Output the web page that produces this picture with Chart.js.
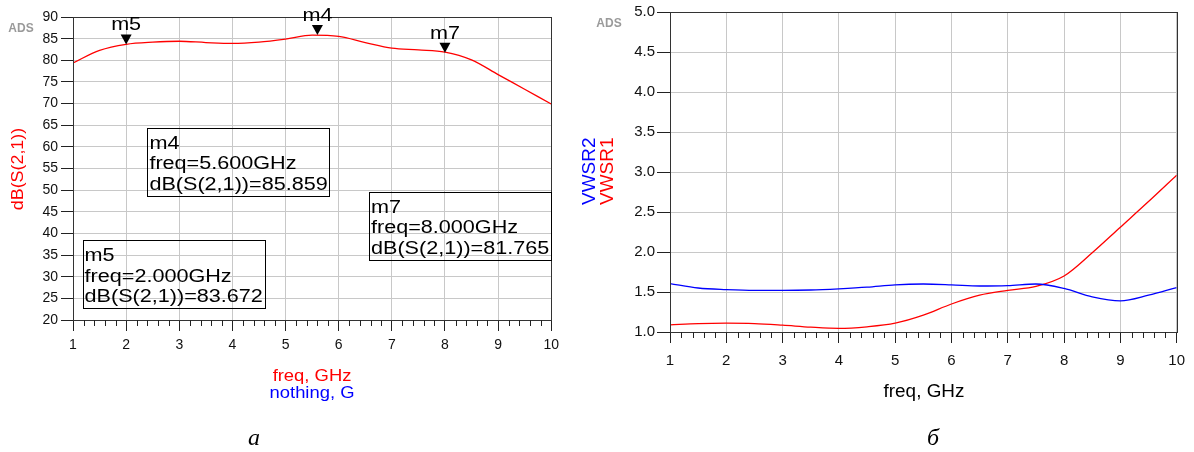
<!DOCTYPE html>
<html>
<head>
<meta charset="utf-8">
<script src="https://cdn.jsdelivr.net/npm/chart.js@4.4.1/dist/chart.umd.min.js"></script>
<style>
  body { margin: 0; background: #fff; width: 1194px; height: 452px; overflow: hidden; position: relative; }
  canvas { position: absolute; top: 0; }
  #left { left: 0; }
  #right { left: 565px; }
</style>
</head>
<body>
<canvas id="left" width="565" height="452"></canvas>
<canvas id="right" width="629" height="452"></canvas>
<script>
'use strict';

// values
var freqS21 = [1, 1.5, 2, 2.5, 3, 3.5, 4, 4.5, 5, 5.5, 6, 6.5, 7, 7.5, 8, 8.5, 9, 9.5, 10];
var dbS21   = [79.4, 82.3, 83.7, 84.2, 84.4, 84.1, 83.9, 84.2, 84.9, 85.8, 85.5, 84.1, 82.8, 82.4, 81.9, 80.1, 76.7, 73.3, 69.9];

var markerNames = ['m5', 'm4', 'm7'];
var markerFreq  = [2.0, 5.6, 8.0];
var markerDb    = [83.672, 85.859, 81.765];

var freqVswr = [1, 1.5, 2, 2.5, 3, 3.5, 4, 4.5, 5, 5.5, 6, 6.5, 7, 7.5, 8, 8.5, 9, 9.5, 10];
var vswr1    = [1.09, 1.105, 1.11, 1.105, 1.085, 1.06, 1.045, 1.065, 1.11, 1.21, 1.35, 1.46, 1.52, 1.57, 1.70, 1.99, 2.31, 2.63, 2.96];
var vswr2    = [1.605, 1.55, 1.53, 1.52, 1.52, 1.525, 1.54, 1.56, 1.59, 1.60, 1.59, 1.575, 1.58, 1.60, 1.545, 1.44, 1.39, 1.46, 1.555];

var freqTicks = [1, 2, 3, 4, 5, 6, 7, 8, 9, 10];
var dbTicks   = [20, 25, 30, 35, 40, 45, 50, 55, 60, 65, 70, 75, 80, 85, 90];
var vswrTicks = [1.0, 1.5, 2.0, 2.5, 3.0, 3.5, 4.0, 4.5, 5.0];

// where the marker readout boxes sit (top-left corner, in freq / dB units)
var boxPos = [[1.18, 38.5], [2.40, 64.4], [6.57, 49.6]];

var FAMILY = '"Liberation Sans", Arial, sans-serif';

function pts(xs, ys) {
    return xs.map(function (x, i) { return { x: x, y: ys[i] }; });
}

function fixTicks(list) {
    return function (scale) {
        scale.ticks = list.map(function (v) { return { value: v }; });
    };
}

// text with an optional horizontal stretch and rotation
function txt(ctx, s, x, y, font, color, align, sx, rot) {
    ctx.save();
    ctx.translate(x, y);
    if (rot) ctx.rotate(rot);
    ctx.scale(sx || 1, 1);
    ctx.font = font;
    ctx.fillStyle = color;
    ctx.textAlign = align || 'center';
    ctx.textBaseline = 'alphabetic';
    ctx.fillText(s, 0, 0);
    ctx.restore();
}

// closes the plot frame and adds the minor ticks on the freq axis
var framePlugin = {
    id: 'frame',
    afterDraw: function (chart) {
        var ctx = chart.ctx, a = chart.chartArea, xs = chart.scales.x;
        ctx.save();
        ctx.strokeStyle = '#333';
        ctx.lineWidth = 1;
        ctx.strokeRect(Math.round(a.left) + 0.5, Math.round(a.top) + 0.5,
                       Math.round(a.right) - Math.round(a.left), Math.round(a.bottom) - Math.round(a.top));
        ctx.strokeStyle = '#222';
        ctx.beginPath();
        for (var k = 1; k < 45; k++) {
            if (k % 5 === 0) continue;
            var px = Math.round(xs.getPixelForValue(1 + k * 0.2)) + 0.5;
            ctx.moveTo(px, a.bottom);
            ctx.lineTo(px, a.bottom + 6);
        }
        ctx.stroke();
        ctx.restore();
    }
};

var leftDecor = {
    id: 'leftDecor',
    afterDraw: function (chart) {
        var ctx = chart.ctx, xs = chart.scales.x, ys = chart.scales.y;
        var boxFont = '18px ' + FAMILY;

        // markers
        for (var i = 0; i < markerNames.length; i++) {
            var px = xs.getPixelForValue(markerFreq[i]);
            var py = ys.getPixelForValue(markerDb[i]);
            ctx.save();
            ctx.fillStyle = '#000';
            ctx.beginPath();
            ctx.moveTo(px - 5.5, py - 10);
            ctx.lineTo(px + 5.5, py - 10);
            ctx.lineTo(px, py);
            ctx.closePath();
            ctx.fill();
            ctx.restore();
            txt(ctx, markerNames[i], px, py - 14, boxFont, '#000', 'center', 1.2);
        }

        // readout boxes
        for (var j = 0; j < markerNames.length; j++) {
            var lines = [markerNames[j],
                         'freq=' + markerFreq[j].toFixed(3) + 'GHz',
                         'dB(S(2,1))=' + markerDb[j].toFixed(3)];
            var bx = xs.getPixelForValue(boxPos[j][0]);
            var by = ys.getPixelForValue(boxPos[j][1]);
            ctx.font = boxFont;
            var w = 0;
            lines.forEach(function (l) { w = Math.max(w, ctx.measureText(l).width * 1.2); });
            ctx.save();
            ctx.strokeStyle = '#000';
            ctx.lineWidth = 1;
            ctx.strokeRect(Math.round(bx) + 0.5, Math.round(by) + 0.5, Math.round(w + 4), 68);
            ctx.restore();
            for (var n = 0; n < lines.length; n++) {
                txt(ctx, lines[n], bx + 2, by + 21 + n * 20.6, boxFont, '#000', 'left', 1.2);
            }
        }

        txt(ctx, 'ADS', 21, 32, 'bold 12px ' + FAMILY, '#9a9a9a', 'center');
        txt(ctx, 'dB(S(2,1))', 23, 169, '17px ' + FAMILY, '#ff0000', 'center', 1.05, -Math.PI / 2);
        txt(ctx, 'freq, GHz', 312, 381, '16px ' + FAMILY, '#ff0000', 'center', 1.15);
        txt(ctx, 'nothing, G', 312, 398, '16px ' + FAMILY, '#0000ff', 'center', 1.15);
        txt(ctx, 'а', 254, 445, 'italic 24px "Liberation Serif", "Times New Roman", serif', '#000', 'center');
    }
};

var rightDecor = {
    id: 'rightDecor',
    afterDraw: function (chart) {
        var ctx = chart.ctx;
        txt(ctx, 'ADS', 44, 27, 'bold 12px ' + FAMILY, '#9a9a9a', 'center');
        txt(ctx, 'VWSR2', 30, 205, '19px ' + FAMILY, '#0000ff', 'left', 1, -Math.PI / 2);
        txt(ctx, 'VWSR1', 48, 205, '19px ' + FAMILY, '#ff0000', 'left', 1, -Math.PI / 2);
        txt(ctx, 'freq, GHz', 359, 397, '18px ' + FAMILY, '#000', 'center', 1.05);
        txt(ctx, 'б', 368, 445, 'italic 24px "Liberation Serif", "Times New Roman", serif', '#000', 'center');
    }
};

function freqAxis(height, labelSize, labelPad) {
    return {
        type: 'linear', min: 1, max: 10,
        afterBuildTicks: fixTicks(freqTicks),
        afterFit: function (s) { s.height = height; },
        grid: { color: '#c8c8c8', lineWidth: 1, tickColor: '#222', tickLength: 11 },
        border: { color: '#333', width: 1 },
        ticks: { color: '#111', font: { family: FAMILY, size: labelSize }, padding: labelPad,
                 maxRotation: 0, autoSkip: false,
                 callback: function (v) { return String(Math.round(v)); } }
    };
}

new Chart(document.getElementById('left'), {
    type: 'line',
    data: {
        datasets: [{
            data: pts(freqS21, dbS21),
            borderColor: '#ff0000', borderWidth: 1.3, pointRadius: 0,
            cubicInterpolationMode: 'monotone', fill: false
        }]
    },
    options: {
        responsive: false, animation: false,
        layout: { padding: { left: 0, top: 17, right: 12, bottom: 0 } },
        plugins: { legend: { display: false }, tooltip: { enabled: false } },
        scales: {
            x: freqAxis(132, 14, 6),
            y: {
                min: 20, max: 90,
                afterBuildTicks: fixTicks(dbTicks),
                afterFit: function (s) { s.width = 73; },
                grid: { color: '#c8c8c8', lineWidth: 1, tickColor: '#222', tickLength: 12 },
                border: { color: '#333', width: 1 },
                ticks: { color: '#111', font: { family: FAMILY, size: 14 }, padding: 3 }
            }
        }
    },
    plugins: [framePlugin, leftDecor]
});

new Chart(document.getElementById('right'), {
    type: 'line',
    data: {
        datasets: [{
            data: pts(freqVswr, vswr2),
            borderColor: '#0000ff', borderWidth: 1.3, pointRadius: 0,
            cubicInterpolationMode: 'monotone', fill: false
        }, {
            data: pts(freqVswr, vswr1),
            borderColor: '#ff0000', borderWidth: 1.3, pointRadius: 0,
            cubicInterpolationMode: 'monotone', fill: false
        }]
    },
    options: {
        responsive: false, animation: false,
        layout: { padding: { left: 0, top: 12, right: 17, bottom: 0 } },
        plugins: { legend: { display: false }, tooltip: { enabled: false } },
        scales: {
            x: freqAxis(120, 15, 9),
            y: {
                min: 1, max: 5,
                afterBuildTicks: fixTicks(vswrTicks),
                afterFit: function (s) { s.width = 105; },
                grid: { color: '#c8c8c8', lineWidth: 1, tickColor: '#222', tickLength: 13 },
                border: { color: '#333', width: 1 },
                ticks: { color: '#111', font: { family: FAMILY, size: 15 }, padding: 2,
                         callback: function (v) { return v.toFixed(1); } }
            }
        }
    },
    plugins: [framePlugin, rightDecor]
});
</script>
</body>
</html>
